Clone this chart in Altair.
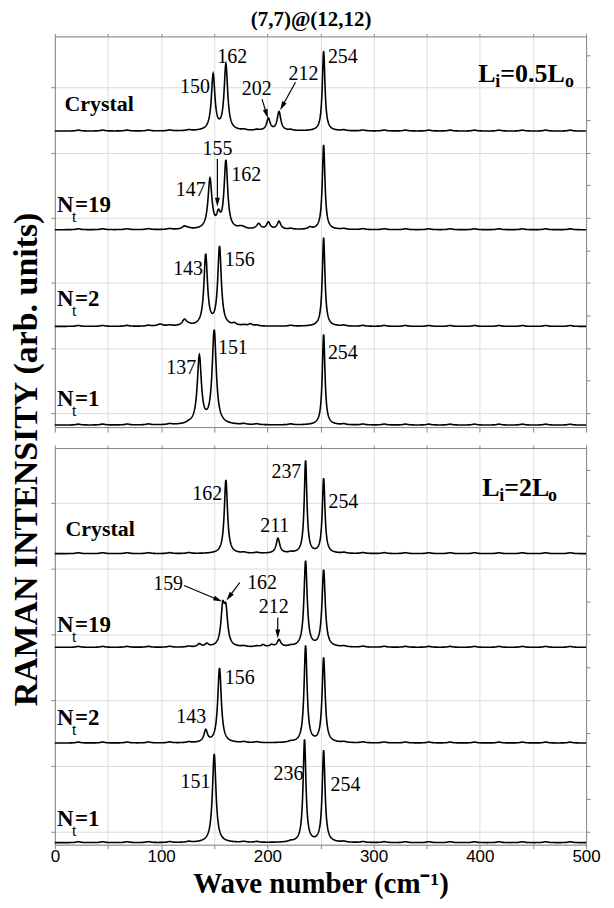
import math
import altair as alt
import numpy as np
import pandas as pd

SERIF = "Liberation Serif"
SANS = "Liberation Sans"

W = 533
H_TOP = 392
H_BOT = 398
KX = W / 500.0

# ---------------- data ----------------
# peaks: (wave number cm^-1, height above baseline, half width cm^-1)
top_crystal = [(149, 56, 2.0), (161, 66, 2.0), (201, 12, 2.0), (211, 19, 2.0), (253, 80, 1.5)]
top_nt19 = [(122, 3, 2.5), (146, 50, 2.2), (154, 12, 2.0), (161, 68, 2.0), (175, 2, 3.0),
            (192, 5, 2.0), (201, 7, 2.0), (211, 8, 2.0), (240, 2, 2.0), (253, 85, 1.5)]
top_nt2 = [(99, 2, 3.0), (122, 6, 2.5), (142, 71, 2.0), (155, 79, 2.0), (169, 2, 2.0),
           (184, 2, 2.0), (253, 89, 1.5)]
top_nt1 = [(136, 68, 2.3), (150, 94, 2.3), (253, 91, 1.5)]

bot_crystal = [(161, 74, 1.8), (210, 15, 2.0), (236, 93, 1.5), (253, 75, 1.5)]
bot_nt19 = [(136, 3, 2.0), (143, 3, 2.0), (158, 36, 2.0), (161, 33, 2.0), (196, 2, 2.0),
            (204, 2, 2.0), (211, 7, 2.0), (236, 86, 1.8), (253, 77, 1.8)]
bot_nt2 = [(142, 12, 2.0), (155, 75, 2.0), (236, 97, 1.7), (253, 85, 1.7)]
bot_nt1 = [(150, 89, 2.0), (235, 103, 1.6), (253, 92, 1.6)]

ripple_pos = [22, 45, 68, 88, 108, 126, 178, 190, 222, 272, 290, 310, 330, 352, 372,
              395, 418, 440, 462, 485]
ripple_h = 0.9

spec_names = ["Crystal", "Nt=19", "Nt=2", "Nt=1"]
top_base = [297, 198, 101, 2]
bot_base = [292, 198, 102, 2]

x_ticks = list(range(0, 501, 50))
top_yticks = [14, 47, 79, 112, 145, 177, 210, 243, 275, 308, 341, 373]
bot_yticks = [13, 46, 79, 112, 145, 178, 211, 244, 277, 310, 343, 376]

# peak labels (wave number position, intensity position, text)
top_num_right = [(146, 341, "150"), (142, 238, "147"), (139.5, 159, "143"), (133, 59, "137")]
top_num_left = [(257, 371, "254"), (166, 253, "162"), (160, 168, "156"), (153.5, 79, "151"),
                (257, 74, "254")]
top_num_center = [(167, 371, "162"), (190, 339, "202"), (234, 354, "212"), (153, 279, "155")]
top_arrows = [(195, 329, 200.5, 310), (226.5, 346, 212, 318), (153, 269, 153, 221)]

bot_num_right = [(157.5, 352, "162"), (232, 374, "237"), (120.7, 262, "159"), (142.5, 128, "143"),
                 (146.5, 63, "151"), (234, 71, "236")]
bot_num_left = [(257.5, 344, "254"), (181, 263, "162"), (160, 167, "156"), (259.5, 60, "254")]
bot_num_center = [(207, 320, "211"), (206, 238, "212")]
bot_arrows = [(121.6, 260, 157.5, 244), (174, 263, 161.5, 245), (209.8, 228, 209.8, 207)]

top_crystal_label = (9, 324)
bot_crystal_label = (10, 317)
top_nt_labels = [(2, 223, "=19"), (2, 128, "=2"), (2, 28, "=1")]
bot_nt_labels = [(2, 220, "=19"), (2, 127, "=2"), (2, 26, "=1")]
top_L = (398.6, 354, "=0.5L")
bot_L = (402.3, 358, "=2L")

# ---------------- build ----------------
wn = np.arange(0, 500.001, 0.25)


def spectrum(peaks, base):
    y = np.full_like(wn, float(base))
    for p, h, g in peaks:
        y += h / (1 + ((wn - p) / g) ** 2)
    for p in ripple_pos:
        y += ripple_h / (1 + ((wn - p) / 2.5) ** 2)
    return y


def spectra_df(peak_sets, bases):
    frames = []
    for name, peaks, b in zip(spec_names, peak_sets, bases):
        frames.append(pd.DataFrame({"wn": wn, "I": spectrum(peaks, b), "s": name}))
    return pd.concat(frames, ignore_index=True)


def panel(peak_sets, bases, H, yticks, num_r, num_l, num_c, arrows, crystal_lab,
          nt_labs, L_lab, sub_L, bottom, ytitle):
    xs = alt.Scale(domain=[0, 500], nice=False, zero=False)
    ys = alt.Scale(domain=[0, H], nice=False, zero=False)

    if bottom:
        xaxis = alt.Axis(values=x_ticks, labelExpr="datum.value % 100 == 0 ? datum.label : ''",
                         labelFont=SANS, labelFontSize=17, labelPadding=0, tickSize=4,
                         title="Wave number (cm⁻¹)", titleFont=SERIF, titleFontSize=29,
                         titleFontWeight="bold", titlePadding=5, labelFlush=False)
    else:
        xaxis = alt.Axis(values=x_ticks, labels=False, tickSize=5, title=None)
    if ytitle:
        yaxis = alt.Axis(values=yticks, labels=False, tickSize=4, title=ytitle,
                         titleFont=SERIF, titleFontSize=34, titleFontWeight="bold",
                         titleX=-28, titleY=424, titleBaseline="middle", titleAngle=270)
    else:
        yaxis = alt.Axis(values=yticks, labels=False, tickSize=4, title=None)

    df = spectra_df(peak_sets, bases)
    lines = alt.Chart(df).mark_line(color="black", strokeWidth=1.6).encode(
        x=alt.X("wn:Q", scale=xs, axis=xaxis),
        y=alt.Y("I:Q", scale=ys, axis=yaxis),
        detail="s:N",
    )

    layers = [lines]

    def txt(rows, size, align, weight="normal", dx=0.0, dy=0.0):
        d = pd.DataFrame(rows, columns=["wn", "I", "t"])
        return alt.Chart(d).mark_text(align=align, baseline="middle", font=SERIF,
                                      fontSize=size, fontWeight=weight, color="black",
                                      dx=dx, dy=dy).encode(
            x=alt.X("wn:Q", scale=xs),
            y=alt.Y("I:Q", scale=ys),
            text="t:N")

    layers.append(txt(num_r, 20, "right"))
    layers.append(txt(num_l, 20, "left"))
    layers.append(txt(num_c, 20, "center"))
    layers.append(txt([(crystal_lab[0], crystal_lab[1], "Crystal")], 22, "left", "bold"))
    layers.append(txt([(a, b, "N") for a, b, _ in nt_labs], 23, "left", "bold"))
    layers.append(txt([(a, b, "t") for a, b, _ in nt_labs], 16, "left", "normal", dx=15, dy=12))
    layers.append(txt(nt_labs, 23, "left", "bold", dx=18))
    layers.append(txt([(L_lab[0], L_lab[1], "L")], 26, "left", "bold"))
    layers.append(txt([(L_lab[0], L_lab[1], "i")], 18, "left", "bold", dx=17, dy=8))
    layers.append(txt([L_lab], 26, "left", "bold", dx=22))
    layers.append(txt([(L_lab[0], L_lab[1], "o")], 18, "left", "bold", dx=22 + sub_L, dy=8))

    rows_l, rows_h = [], []
    hl = 4.5
    for (x1, y1, x2, y2) in arrows:
        sx = (x2 - x1) * KX
        sy = -(y2 - y1)
        Ln = math.hypot(sx, sy)
        ux, uy = sx / Ln, sy / Ln
        xc = x2 - hl * ux / KX
        yc = y2 + hl * uy
        ang = (math.degrees(math.atan2(ux, -uy)) + 360) % 360
        rows_l.append({"wn": x1, "I": y1, "wn2": xc, "I2": yc})
        rows_h.append({"wn": xc, "I": yc, "ang": ang})
    dl = pd.DataFrame(rows_l)
    dh = pd.DataFrame(rows_h)
    layers.append(alt.Chart(dl).mark_rule(color="black", strokeWidth=1.2).encode(
        x=alt.X("wn:Q", scale=xs), y=alt.Y("I:Q", scale=ys),
        x2="wn2:Q", y2="I2:Q"))
    layers.append(alt.Chart(dh).mark_point(shape="M0,-1L0.55,1L-0.55,1Z", filled=True,
                                           size=81, color="black", opacity=1).encode(
        x=alt.X("wn:Q", scale=xs), y=alt.Y("I:Q", scale=ys),
        angle=alt.Angle("ang:Q", scale=None)))

    inner = alt.layer(*layers)
    mirror_df = pd.DataFrame({"wn": [0, 500], "I": [0, H]})
    mirror = alt.Chart(mirror_df).mark_point(opacity=0).encode(
        x=alt.X("wn:Q", scale=xs, axis=alt.Axis(orient="top", values=x_ticks, labels=False,
                                                tickSize=3, title=None)),
        y=alt.Y("I:Q", scale=ys, axis=alt.Axis(orient="right", values=yticks, labels=False,
                                               tickSize=4, title=None)),
    )
    return alt.layer(inner, mirror).resolve_axis(x="independent", y="independent").properties(
        width=W, height=H)


top = panel([top_crystal, top_nt19, top_nt2, top_nt1], top_base, H_TOP, top_yticks,
            top_num_right, top_num_left, top_num_center, top_arrows, top_crystal_label,
            top_nt_labels, top_L, 65, False, "RAMAN INTENSITY (arb. units)")
bot = panel([bot_crystal, bot_nt19, bot_nt2, bot_nt1], bot_base, H_BOT, bot_yticks,
            bot_num_right, bot_num_left, bot_num_center, bot_arrows, bot_crystal_label,
            bot_nt_labels, bot_L, 44, True, None)

chart = alt.vconcat(top, bot, spacing=21, bounds="flush").properties(
    title=alt.TitleParams("(7,7)@(12,12)", font=SERIF, fontSize=21, fontWeight="bold",
                          anchor="middle", offset=2, dx=6),
    padding={"left": 1, "top": 0, "right": 5, "bottom": 0},
).configure_view(stroke="black", strokeWidth=1.5).configure_axis(
    domain=False, grid=False, tickColor="black", tickWidth=1.2
).configure(background="white")

chart.save("out.html", embed_options={"renderer": "svg", "actions": False})
